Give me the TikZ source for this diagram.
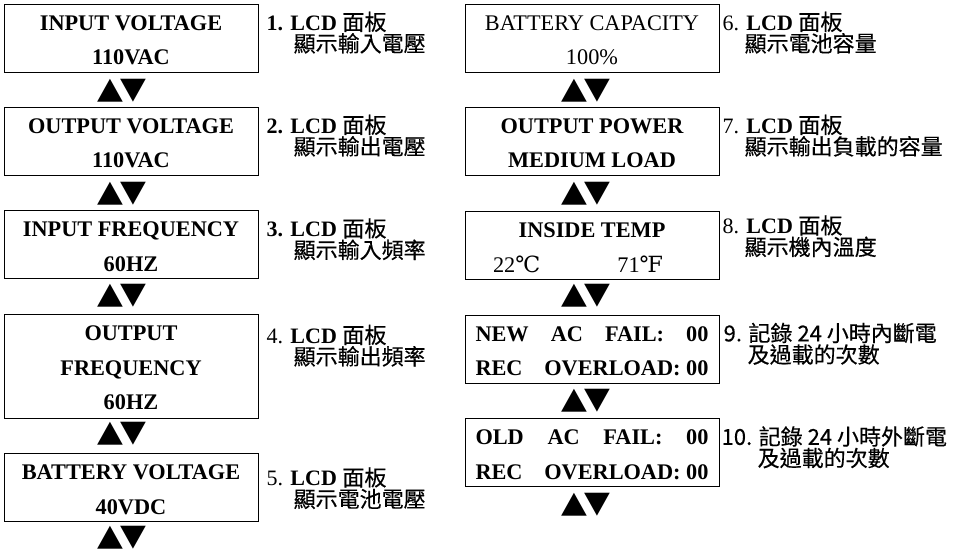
\documentclass[tikz,border=0pt]{standalone}
\usepackage{fontspec}
\usepackage{graphicx}
\setmainfont{Liberation Serif}
\newfontfamily\cjk{Noto Sans CJK TC}[FakeBold=0.35]
\newfontfamily\symb{DejaVu Sans}
\newfontfamily\unitfont{DejaVu Serif}
\usetikzlibrary{positioning}

\newcommand\boxfont{\fontsize{22.3}{34.5}\selectfont\bfseries}
\newcommand\notefont{\fontsize{22}{21.5}\selectfont\lineskiplimit=-40pt}
\newcommand\keys{\scalebox{1.12}[1]{▲\kern-2pt▼}}
\newcommand\up{\rule{0pt}{19pt}}

\tikzset{
  % LCD screens
  lcd/.style     = {draw, line width=0.9pt, minimum width=254pt, minimum height=68pt,
                    inner sep=0pt, align=center, font=\boxfont},
  tall/.style    = {minimum height=104pt},
  % side notes
  note/.style    = {anchor=north west, align=left, inner sep=0pt, yshift=-8pt, font=\notefont},
  % up / down keys
  updown/.style  = {inner sep=0pt, font=\symb\fontsize{30}{30}\selectfont},
}

\begin{document}
\begin{tikzpicture}[x=1pt, y=-1pt]
\useasboundingbox (0,0) rectangle (968,552);

% ---------- left column ----------
\node[lcd] (lcd1) at (131,38)    {\up INPUT VOLTAGE\\110VAC};
\node[lcd] (lcd2) at (131,141)   {\up OUTPUT VOLTAGE\\110VAC};
\node[lcd] (lcd3) at (131,244.5) {\up INPUT FREQUENCY\\60HZ};
\node[lcd, tall] (lcd4) at (131,366) {\up OUTPUT\\FREQUENCY\\60HZ};
\node[lcd] (lcd5) at (131,487.5) {\up BATTERY VOLTAGE\\40VDC};

\node[updown] (ud1) at (122,91)  {\keys};
\node[updown] (ud2) at (122,194) {\keys};
\node[updown] (ud3) at (122,296) {\keys};
\node[updown] (ud4) at (122,434) {\keys};
\node[updown] (ud5) at (122,538) {\keys};

\node[right=8pt of lcd1.north east, note] (n1)
  {\textbf{1. LCD} {\cjk 面板}\\\hspace*{27pt}{\cjk 顯示輸入電壓}};
\node[right=8pt of lcd2.north east, note] (n2)
  {\textbf{2. LCD} {\cjk 面板}\\\hspace*{27pt}{\cjk 顯示輸出電壓}};
\node[right=8pt of lcd3.north east, note] (n3)
  {\textbf{3. LCD} {\cjk 面板}\\\hspace*{27pt}{\cjk 顯示輸入頻率}};
\node[right=8pt of lcd4.north east, note, yshift=-3pt] (n4)
  {4. \textbf{LCD} {\cjk 面板}\\\hspace*{27pt}{\cjk 顯示輸出頻率}};
\node[right=8pt of lcd5.north east, note, yshift=-6pt] (n5)
  {5. \textbf{LCD} {\cjk 面板}\\\hspace*{27pt}{\cjk 顯示電池電壓}};

% ---------- right column ----------
\node[lcd, font=\boxfont\mdseries] (lcd6) at (592,38) {\up BATTERY CAPACITY\\100\%};
\node[lcd] (lcd7) at (592,141)   {\up OUTPUT POWER\\MEDIUM LOAD};
\node[lcd] (lcd8) at (592,245.5)
  {\up INSIDE TEMP\\\mdseries\makebox[170pt]{22{\unitfont ℃}\hfill 71{\unitfont ℉}}\hspace*{28pt}};
\node[lcd] (lcd9) at (592,349)
  {\up\makebox[233pt]{NEW\hfill AC\hfill FAIL:\hfill 00}\\\makebox[233pt]{REC\hfill OVERLOAD: 00}};
\node[lcd] (lcd10) at (592,452.5)
  {\up\makebox[233pt]{OLD\hfill AC\hfill FAIL:\hfill 00}\\\makebox[233pt]{REC\hfill OVERLOAD: 00}};

\node[updown] (ud6) at (586,91)  {\keys};
\node[updown] (ud7) at (586,194) {\keys};
\node[updown] (ud8) at (586,296) {\keys};
\node[updown] (ud9) at (586,401) {\keys};
\node[updown] (ud10) at (586,505) {\keys};

\node[right=3pt of lcd6.north east, note] (n6)
  {6. \textbf{LCD} {\cjk 面板}\\\hspace*{22pt}{\cjk 顯示電池容量}};
\node[right=3pt of lcd7.north east, note] (n7)
  {7. \textbf{LCD} {\cjk 面板}\\\hspace*{22pt}{\cjk 顯示輸出負載的容量}};
\node[right=3pt of lcd8.north east, note, yshift=4pt] (n8)
  {8. \textbf{LCD} {\cjk 面板}\\\hspace*{22pt}{\cjk 顯示機內溫度}};
\node[right=4pt of lcd9.north east, note, font=\notefont\cjk] (n9)
  {9. 記錄 24 小時內斷電\\\hspace*{24pt}及過載的次數};
\node[right=2pt of lcd10.north east, note, font=\notefont\cjk] (n10)
  {10. 記錄 24 小時外斷電\\\hspace*{36pt}及過載的次數};

\end{tikzpicture}
\end{document}
